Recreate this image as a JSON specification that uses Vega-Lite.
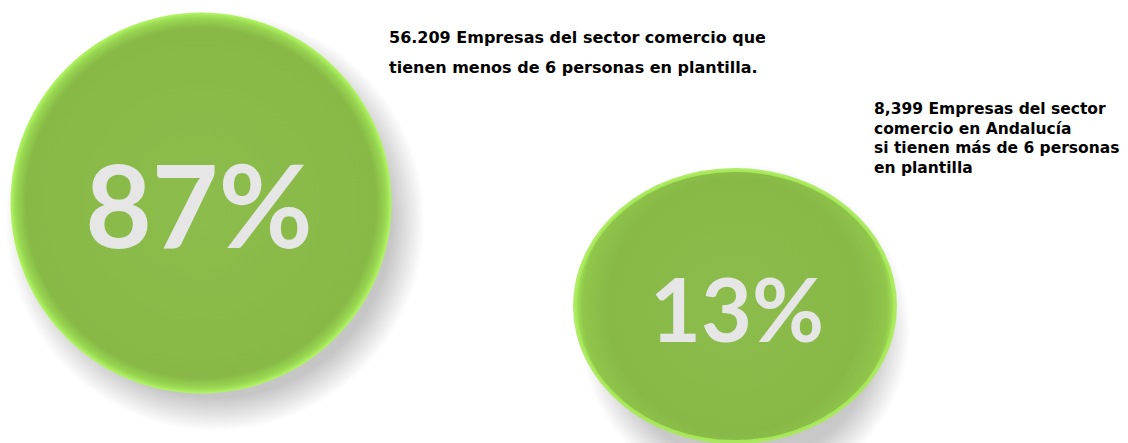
{
  "$schema": "https://vega.github.io/schema/vega-lite/v6.json",
  "width": 1128,
  "height": 443,
  "padding": 0,
  "autosize": {"type": "none"},
  "background": "#ffffff",
  "config": {"view": {"stroke": null}},
  "datasets": {
    "circles": [
      {"label": "87%", "pct": 87, "x": 201, "y": 203},
      {"label": "13%", "pct": 13, "x": 735, "y": 306}
    ],
    "notes": [
      {"id": "a", "text": "56.209 Empresas del sector comercio que\ntienen menos de 6 personas en plantilla.", "x": 389, "y": 43},
      {"id": "b", "text": "8,399 Empresas del sector\ncomercio en Andalucía\nsi tienen más de 6 personas\nen plantilla", "x": 874, "y": 114}
    ]
  },
  "layer": [
    {
      "data": {"name": "circles"},
      "transform": [{"filter": "datum.label == '87%'"}],
      "mark": {
        "type": "point", "shape": "circle", "size": 176400,
        "filled": true, "opacity": 1, "strokeWidth": 0,
        "xOffset": 14, "yOffset": 18,
        "fill": {
          "gradient": "radial", "x1": 0.5, "y1": 0.5, "r1": 0, "x2": 0.5, "y2": 0.5, "r2": 0.5,
          "stops": [
            {"offset": 0, "color": "#c4c4c4"},
            {"offset": 0.84, "color": "#c6c6c6"},
            {"offset": 1, "color": "#ffffff"}
          ]
        }
      },
      "encoding": {
        "x": {"field": "x", "type": "quantitative", "scale": {"domain": [0, 1128], "nice": false, "zero": false}, "axis": null},
        "y": {"field": "y", "type": "quantitative", "scale": {"domain": [0, 443], "nice": false, "zero": false, "reverse": true}, "axis": null}
      }
    },
    {
      "data": {"name": "circles"},
      "transform": [{"filter": "datum.label == '13%'"}],
      "mark": {
        "type": "point", "shape": "circle", "size": 108900,
        "filled": true, "opacity": 1, "strokeWidth": 0,
        "xOffset": 10, "yOffset": 24,
        "fill": {
          "gradient": "radial", "x1": 0.5, "y1": 0.5, "r1": 0, "x2": 0.5, "y2": 0.5, "r2": 0.5,
          "stops": [
            {"offset": 0, "color": "#c4c4c4"},
            {"offset": 0.8, "color": "#c8c8c8"},
            {"offset": 1, "color": "#ffffff"}
          ]
        }
      },
      "encoding": {
        "x": {"field": "x", "type": "quantitative", "axis": null},
        "y": {"field": "y", "type": "quantitative", "axis": null}
      }
    },
    {
      "data": {"name": "circles"},
      "transform": [{"filter": "datum.label == '87%'"}],
      "mark": {
        "type": "point", "shape": "circle", "size": 145161,
        "filled": true, "opacity": 1, "strokeWidth": 0,
        "fill": {
          "gradient": "radial", "x1": 0.5, "y1": 0.5, "r1": 0, "x2": 0.5, "y2": 0.5, "r2": 0.5,
          "stops": [
            {"offset": 0, "color": "#8cbd4c"},
            {"offset": 0.92, "color": "#88b947"},
            {"offset": 0.97, "color": "#98d651"},
            {"offset": 1, "color": "#b2f663"}
          ]
        }
      },
      "encoding": {
        "x": {"field": "x", "type": "quantitative", "axis": null},
        "y": {"field": "y", "type": "quantitative", "axis": null}
      }
    },
    {
      "data": {"name": "circles"},
      "transform": [{"filter": "datum.label == '13%'"}],
      "mark": {
        "type": "point", "shape": "M-1,0A1,0.85 0 1,1 1,0A1,0.85 0 1,1 -1,0Z", "size": 102400,
        "filled": true, "opacity": 1,
        "stroke": "#a8ea59", "strokeWidth": 4, "strokeOpacity": 0.9,
        "fill": {
          "gradient": "radial", "x1": 0.5, "y1": 0.5, "r1": 0, "x2": 0.5, "y2": 0.5, "r2": 0.5,
          "stops": [
            {"offset": 0, "color": "#8cbd4c"},
            {"offset": 0.8, "color": "#88b947"},
            {"offset": 0.95, "color": "#8fc64b"},
            {"offset": 1, "color": "#a6e657"}
          ]
        }
      },
      "encoding": {
        "x": {"field": "x", "type": "quantitative", "axis": null},
        "y": {"field": "y", "type": "quantitative", "axis": null}
      }
    },
    {
      "data": {"name": "circles"},
      "transform": [{"filter": "datum.label == '87%'"}],
      "mark": {
        "type": "text", "font": "Lato", "fontWeight": "bold", "fontSize": 115,
        "color": "#e6e6e6", "align": "center", "baseline": "alphabetic",
        "xOffset": -2, "yOffset": 45
      },
      "encoding": {
        "x": {"field": "x", "type": "quantitative", "axis": null},
        "y": {"field": "y", "type": "quantitative", "axis": null},
        "text": {"field": "label", "type": "nominal"}
      }
    },
    {
      "data": {"name": "circles"},
      "transform": [{"filter": "datum.label == '13%'"}],
      "mark": {
        "type": "text", "font": "Lato", "fontWeight": "bold", "fontSize": 88,
        "color": "#e6e6e6", "align": "center", "baseline": "alphabetic",
        "xOffset": 2, "yOffset": 36
      },
      "encoding": {
        "x": {"field": "x", "type": "quantitative", "axis": null},
        "y": {"field": "y", "type": "quantitative", "axis": null},
        "text": {"field": "label", "type": "nominal"}
      }
    },
    {
      "data": {"name": "notes"},
      "transform": [{"filter": "datum.id == 'a'"}],
      "mark": {
        "type": "text", "font": "DejaVu Sans", "fontWeight": "bold",
        "fontSize": 16, "lineHeight": 30, "lineBreak": "\n",
        "color": "#000000", "align": "left", "baseline": "alphabetic"
      },
      "encoding": {
        "x": {"field": "x", "type": "quantitative", "axis": null},
        "y": {"field": "y", "type": "quantitative", "axis": null},
        "text": {"field": "text", "type": "nominal"}
      }
    },
    {
      "data": {"name": "notes"},
      "transform": [{"filter": "datum.id == 'b'"}],
      "mark": {
        "type": "text", "font": "DejaVu Sans", "fontWeight": "bold",
        "fontSize": 15.5, "lineHeight": 19.5, "lineBreak": "\n",
        "color": "#000000", "align": "left", "baseline": "alphabetic"
      },
      "encoding": {
        "x": {"field": "x", "type": "quantitative", "axis": null},
        "y": {"field": "y", "type": "quantitative", "axis": null},
        "text": {"field": "text", "type": "nominal"}
      }
    }
  ]
}
